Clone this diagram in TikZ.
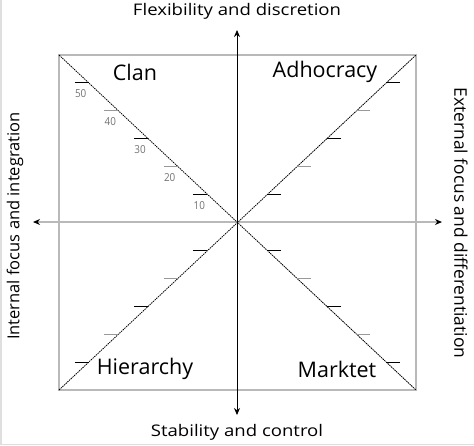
\documentclass[tikz,border=0pt]{standalone}
\usepackage{fontspec}
\setmainfont{Open Sans}
\usetikzlibrary{calc,arrows.meta}
\begin{document}
\begin{tikzpicture}[x=1pt, y=-1pt, >={Stealth[black,length=7pt,width=6pt]},
    quad/.style={font=\fontsize{21.5}{24}\selectfont},
    axislabel/.style={font=\fontsize{16}{18}\selectfont, xscale=1.16},
    sidelabel/.style={font=\fontsize{#1}{18}\selectfont},
    ticklabel/.style={font=\fontsize{11}{12}\selectfont, text=gray!90!black, xscale=0.9}]
\useasboundingbox (0,0) rectangle (474,445);
\draw[gray!25, line width=1.5pt] (0.75,0) -- (0.75,444.25) -- (474,444.25);
\coordinate (O) at (237,222);
\coordinate (NW) at (59,55);
\coordinate (NE) at (416,55);
\coordinate (SW) at (59,390);
\coordinate (SE) at (416,390);
\coordinate (W) at (33,222);
\coordinate (E) at (442,222);
\coordinate (N) at (237,30);
\coordinate (S) at (237,415);

\draw[gray!55, line width=1.5pt] (NW) rectangle (SE);
\draw[<->, gray!55, line width=1.5pt] (W) -- (E);
\draw[<->, line width=0.8pt] (N) -- (S);
\draw[line width=0.8pt, dash pattern=on 1.5pt off 0.8pt] (NW) -- (SE);
\draw[line width=0.8pt, dash pattern=on 1.5pt off 0.8pt] (SW) -- (NE);

\foreach \k/\col in {1/black,2/gray!80,3/black,4/gray!80,5/black}
{
    \draw[\col, line width=0.8pt] ($(O)!\k/6!(NW)$) -- ++(-14,0) coordinate[midway] (t\k);
    \node[ticklabel] (n\k) at ($(t\k)+(-1,11)$) {\k0};
    \draw[\col, line width=0.8pt] ($(O)!\k/6!(NE)$) -- ++(14,0);
    \draw[\col, line width=0.8pt] ($(O)!\k/6!(SW)$) -- ++(-14,0);
    \draw[\col, line width=0.8pt] ($(O)!\k/6!(SE)$) -- ++(14,0);
}

\node[quad] (clan) at (135,72) {Clan};
\node[quad] (adhoc) at (325,72) {Adhocracy};
\node[quad] (hier) at (145,369) {Hierarchy};
\node[quad] (market) at (337,369) {Marktet};

\node[axislabel] (top) at (237,11) {Flexibility and discretion};
\node[axislabel] (bottom) at (237,432) {Stability and control};
\node[sidelabel=16.5, rotate=90] (left) at (15,226) {Internal focus and integration};
\node[sidelabel=17.4, rotate=-90] (right) at (461,223) {External focus and differentiation};
\end{tikzpicture}
\end{document}
